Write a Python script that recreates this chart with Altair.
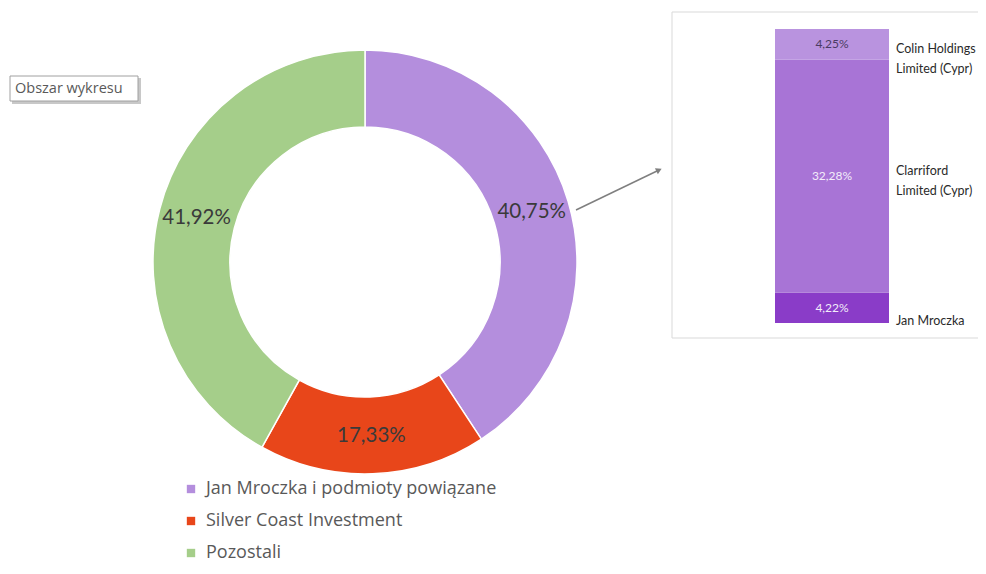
import altair as alt
import pandas as pd

# --- data ---
names = ["Jan Mroczka i podmioty powiązane", "Silver Coast Investment", "Pozostali"]
shares = [40.75, 17.33, 41.92]
share_labels = ["40,75%", "17,33%", "41,92%"]
colors = ["#B48EDD", "#E8461A", "#A5CE8A"]

bar_names = ["Jan Mroczka", "Clarriford Limited (Cypr)", "Colin Holdings Limited (Cypr)"]
bar_shares = [4.22, 32.28, 4.25]
bar_value_labels = ["4,22%", "32,28%", "4,25%"]
bar_side_labels = ["Jan Mroczka", "Clarriford\nLimited (Cypr)", "Colin Holdings\nLimited (Cypr)"]
bar_colors = ["#8A3CC8", "#A874D6", "#B993DF"]

FONT = "Lato"
FONT2 = "Open Sans"

donut_df = pd.DataFrame({"name": names, "share": shares, "label": share_labels,
                         "idx": list(range(len(names)))})
bar_df = pd.DataFrame({"name": bar_names, "share": bar_shares, "vlabel": bar_value_labels,
                       "slabel": bar_side_labels, "idx": list(range(len(bar_names))),
                       "grp": ["g"] * len(bar_names)})
one = pd.DataFrame({"a": [0]})

CX, CY = 357, 254

base = alt.Chart(donut_df)
arcs = base.mark_arc(radius=212, radius2=135, stroke="white", strokeWidth=1.5).encode(
    theta=alt.Theta("share:Q", stack=True),
    order=alt.Order("idx:Q"),
    color=alt.Color("name:N", scale=alt.Scale(domain=names, range=colors),
                    legend=alt.Legend(title=None, orient="none", legendX=174, legendY=472,
                                      symbolType="square", symbolSize=70, symbolStrokeWidth=0,
                                      labelFontSize=18, labelFont=FONT2, labelColor="#595959",
                                      rowPadding=14, labelLimit=500, labelOffset=6)),
    x=alt.value(CX), y=alt.value(CY),
)
arc_text = base.mark_text(radius=174, fontSize=20.5, font=FONT, color="#3a3a3a").encode(
    theta=alt.Theta("share:Q", stack=True),
    order=alt.Order("idx:Q"),
    text="label:N",
    x=alt.value(CX), y=alt.value(CY),
)

# panel box
panel = alt.Chart(one).mark_rect(fill="white", stroke="#d9d9d9", strokeWidth=1).encode(
    x=alt.value(664), x2=alt.value(990), y=alt.value(4), y2=alt.value(330))

ysc = alt.Scale(domain=[0, sum(bar_shares)], range=[315, 21])
xsc = alt.Scale(range=[767, 881], paddingInner=0, paddingOuter=0)

bar_base = alt.Chart(bar_df).transform_stack(
    stack="share", groupby=["grp"], as_=["v0", "v1"],
    sort=[alt.SortField("idx", order="ascending")]
).transform_calculate(mid="(datum.v0 + datum.v1) / 2")

bars = bar_base.mark_bar().encode(
    x=alt.X("grp:N", scale=xsc, axis=None),
    y=alt.Y("v0:Q", scale=ysc, axis=None), y2="v1:Q",
    color=alt.Color("name:N", scale=alt.Scale(domain=bar_names, range=bar_colors), legend=None),
)
bar_vals = bar_base.mark_text(fontSize=12, font=FONT, baseline="middle").encode(
    x=alt.X("grp:N", scale=xsc, axis=None),
    y=alt.Y("mid:Q", scale=ysc, axis=None),
    text="vlabel:N",
    color=alt.condition(alt.datum.idx == 2, alt.value("#4B3B63"), alt.value("#F3ECFA")),
)

side_layers = []
for i, dy in [(0, 13), (1, -5), (2, 5)]:
    side_layers.append(
        bar_base.transform_filter(alt.datum.idx == i).mark_text(
            fontSize=12.5, font=FONT, align="left", baseline="middle", dx=64, dy=dy,
            lineBreak="\n", lineHeight=20, color="#2a2a2a").encode(
            x=alt.X("grp:N", scale=xsc, axis=None),
            y=alt.Y("mid:Q", scale=ysc, axis=None),
            text="slabel:N",
        )
    )

# arrow
arrow_line = alt.Chart(one).mark_rule(color="#7f7f7f", strokeWidth=1.5).encode(
    x=alt.value(568), y=alt.value(202), x2=alt.value(649), y2=alt.value(163))
arrow_head = alt.Chart(one).mark_point(shape="triangle-right", filled=True, color="#7f7f7f",
                                       size=45, angle=334, opacity=1).encode(
    x=alt.value(651), y=alt.value(162))

# "Obszar wykresu" tooltip box
shadow = alt.Chart(one).mark_rect(fill="#c8c8c8").encode(
    x=alt.value(4), x2=alt.value(133), y=alt.value(70), y2=alt.value(96))
tbox = alt.Chart(one).mark_rect(fill="white", stroke="#a0a0a0", strokeWidth=1).encode(
    x=alt.value(2), x2=alt.value(130), y=alt.value(68), y2=alt.value(93))
ttext = alt.Chart(one).mark_text(text="Obszar wykresu", fontSize=14.5, font=FONT2, color="#595959",
                                 align="left", baseline="middle").encode(
    x=alt.value(7), y=alt.value(81))

chart = alt.layer(
    panel, arcs, arc_text, bars, bar_vals, *side_layers, arrow_line, arrow_head, shadow, tbox, ttext
).resolve_scale(
    color="independent", x="independent", y="independent", theta="independent"
).properties(
    width=970, height=558, padding=0, autosize=alt.AutoSizeParams(type="none")
).configure_view(stroke=None)

chart.save("out.html", embed_options={"renderer": "svg", "actions": False})
